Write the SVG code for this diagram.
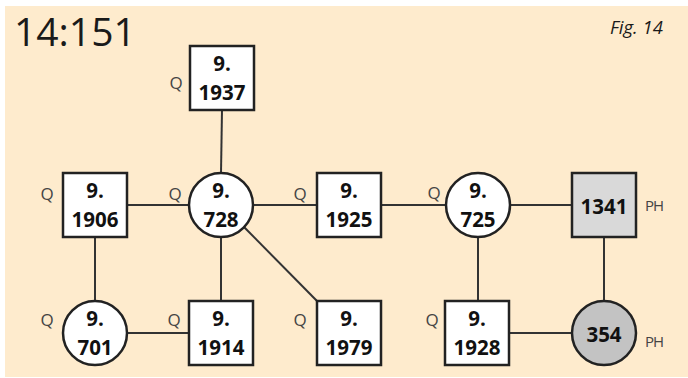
<svg xmlns="http://www.w3.org/2000/svg" width="688" height="378" viewBox="0 0 688 378">
<style>
.bg{fill:#FEEBCD}
.n{fill:#fff;stroke:#222;stroke-width:2.5}
.g1{fill:#D9D9D9}
.g2{fill:#C3C3C3}
.e{stroke:#333;stroke-width:2;fill:none}
.t{font-family:"Open Sans","Liberation Sans",sans-serif;font-weight:bold;font-size:20.5px;fill:#111;text-anchor:middle}
.q{font-family:"Open Sans","Liberation Sans",sans-serif;font-size:17px;fill:#444;text-anchor:middle}
.ph{font-family:"Open Sans","Liberation Sans",sans-serif;font-size:15px;fill:#444;text-anchor:start;letter-spacing:-1px}
</style>
<rect x="0" y="0" width="688" height="378" fill="#fff"/>
<rect class="bg" x="5" y="6" width="683" height="371"/>
<text x="14" y="46" font-family="'Open Sans','Liberation Sans',sans-serif" font-size="39" fill="#1a1a1a">14:151</text>
<text x="610" y="34" font-family="'Open Sans','Liberation Sans',sans-serif" font-size="18.5" font-style="italic" fill="#1a1a1a">Fig. 14</text>
<g id="connectors">
<line class="e" x1="222" y1="110" x2="221" y2="173"/>
<line class="e" x1="127" y1="205" x2="189" y2="205"/>
<line class="e" x1="253" y1="205" x2="317" y2="205"/>
<line class="e" x1="381" y1="205" x2="446" y2="205"/>
<line class="e" x1="510" y1="205" x2="572" y2="205"/>
<line class="e" x1="95" y1="237" x2="95" y2="301"/>
<line class="e" x1="221" y1="237" x2="221" y2="301"/>
<line class="e" x1="244" y1="227" x2="317" y2="301"/>
<line class="e" x1="127" y1="333" x2="189" y2="333"/>
<line class="e" x1="478" y1="237" x2="478" y2="301"/>
<line class="e" x1="509" y1="333" x2="572" y2="333"/>
<line class="e" x1="604" y1="237" x2="604" y2="301"/>
</g>
<g id="n1937"><rect class="n" x="190" y="46" width="64" height="64"/><text class="t" x="222" y="71">9.</text><text class="t" x="222" y="100">1937</text><text class="q" x="176" y="89">Q</text></g>
<g id="n1906"><rect class="n" x="63" y="173" width="64" height="64"/><text class="t" x="95" y="198">9.</text><text class="t" x="95" y="227">1906</text><text class="q" x="47" y="200">Q</text></g>
<g id="n728"><circle class="n" cx="221" cy="205" r="32"/><text class="t" x="221" y="198">9.</text><text class="t" x="221" y="227">728</text><text class="q" x="175" y="200">Q</text></g>
<g id="n1925"><rect class="n" x="317" y="173" width="64" height="64"/><text class="t" x="349" y="198">9.</text><text class="t" x="349" y="227">1925</text><text class="q" x="300" y="200">Q</text></g>
<g id="n725"><circle class="n" cx="478" cy="205" r="32"/><text class="t" x="478" y="198">9.</text><text class="t" x="478" y="227">725</text><text class="q" x="434" y="199">Q</text></g>
<g id="n1341"><rect class="n g1" x="572" y="173" width="64" height="64"/><text class="t" x="604" y="214">1341</text><text class="ph" x="645" y="211">PH</text></g>
<g id="n701"><circle class="n" cx="95" cy="333" r="32"/><text class="t" x="95" y="326">9.</text><text class="t" x="95" y="355">701</text><text class="q" x="47" y="326">Q</text></g>
<g id="n1914"><rect class="n" x="189" y="301" width="64" height="64"/><text class="t" x="221" y="326">9.</text><text class="t" x="221" y="355">1914</text><text class="q" x="174" y="326">Q</text></g>
<g id="n1979"><rect class="n" x="317" y="301" width="64" height="64"/><text class="t" x="349" y="326">9.</text><text class="t" x="349" y="355">1979</text><text class="q" x="300" y="326">Q</text></g>
<g id="n1928"><rect class="n" x="445" y="301" width="64" height="64"/><text class="t" x="477" y="326">9.</text><text class="t" x="477" y="355">1928</text><text class="q" x="432" y="326">Q</text></g>
<g id="n354"><circle class="n g2" cx="604" cy="333" r="32"/><text class="t" x="604" y="342">354</text><text class="ph" x="645" y="347">PH</text></g>
</svg>
